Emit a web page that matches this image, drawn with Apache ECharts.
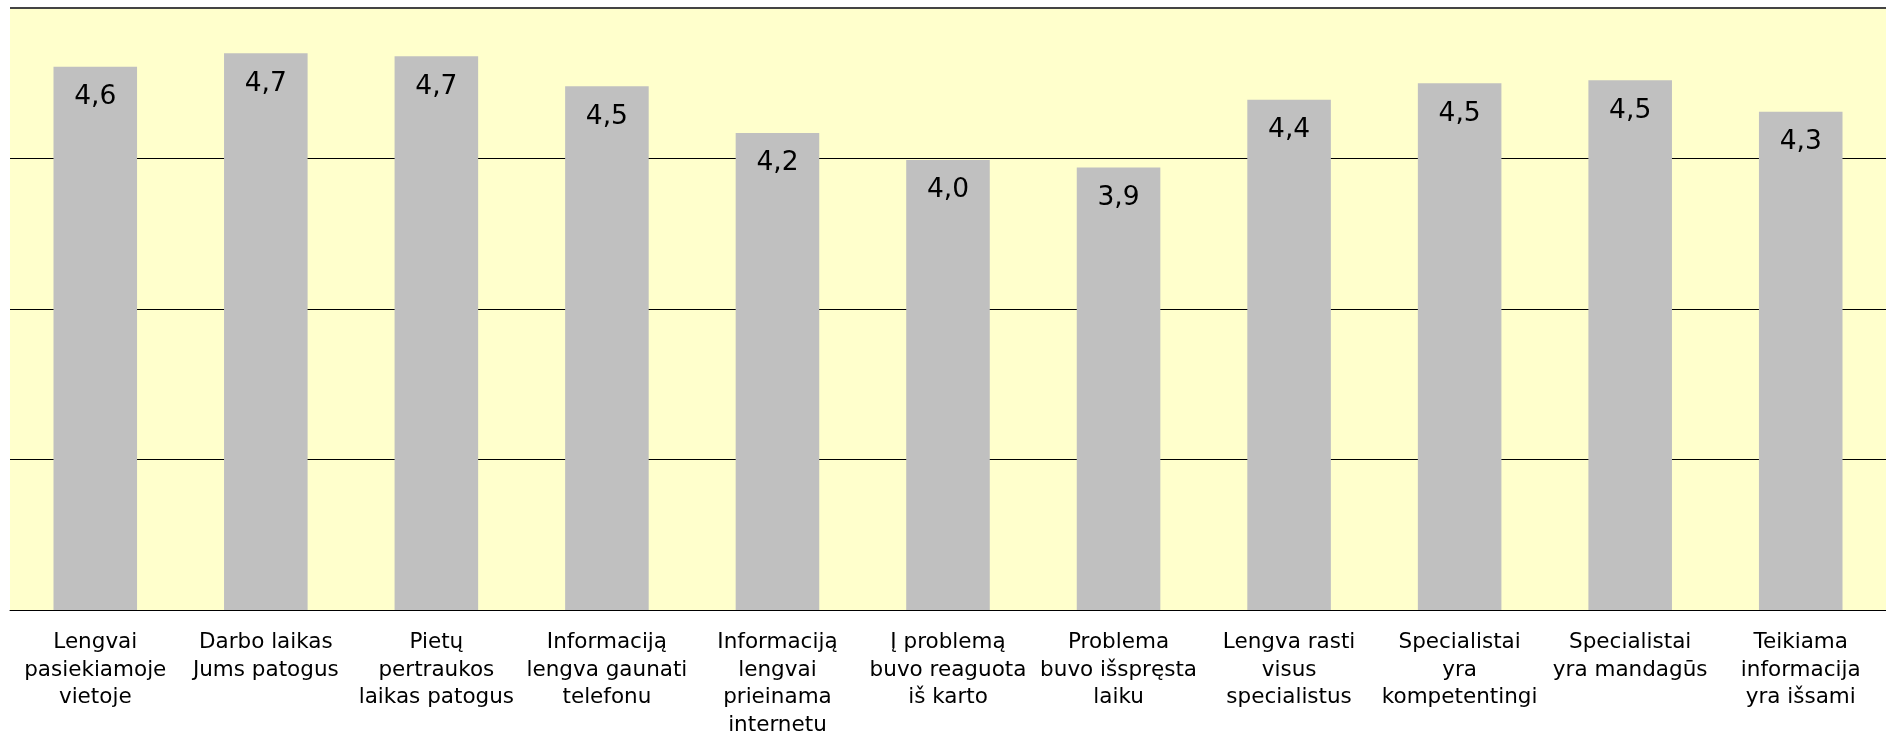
<!DOCTYPE html>
<html>
<head>
<meta charset="utf-8">
<script src="https://cdn.jsdelivr.net/npm/echarts@6/dist/echarts.min.js"></script>
<style>
  html, body { margin: 0; padding: 0; background: #ffffff; }
  #chart { width: 1886px; height: 735px; }
</style>
</head>
<body>
<div id="chart"></div>
<script>
// Survey statements (line breaks as they wrap under each bar)
const categories = [
  'Lengvai\npasiekiamoje\nvietoje',
  'Darbo laikas\nJums patogus',
  'Pietų\npertraukos\nlaikas patogus',
  'Informaciją\nlengva gaunati\ntelefonu',
  'Informaciją\nlengvai\nprieinama\ninternetu',
  'Į problemą\nbuvo reaguota\niš karto',
  'Problema\nbuvo išspręsta\nlaiku',
  'Lengva rasti\nvisus\nspecialistus',
  'Specialistai\nyra\nkompetentingi',
  'Specialistai\nyra mandagūs',
  'Teikiama\ninformacija\nyra išsami'
];

// Average score per statement
const scores = [4.61, 4.70, 4.68, 4.48, 4.17, 3.99, 3.94, 4.39, 4.50, 4.52, 4.31];

// Value axis range
const yMin = 1;
const yMax = 5;
const yStep = 1;

const chart = echarts.init(document.getElementById('chart'));

chart.setOption({
  animation: false,
  grid: {
    left: 10,
    right: 0,
    top: 8,
    bottom: 125,
    outerBoundsMode: 'none',
    show: true,
    backgroundColor: '#FFFFCC',
    borderWidth: 0
  },
  xAxis: {
    type: 'category',
    data: categories,
    axisLine: { show: true, lineStyle: { color: '#000000', width: 1 } },
    axisTick: { show: false },
    axisLabel: {
      interval: 0,
      margin: 19,
      color: '#000000',
      fontFamily: 'DejaVu Sans',
      fontSize: 21.5,
      lineHeight: 27.5,
      align: 'center'
    }
  },
  yAxis: {
    type: 'value',
    min: yMin,
    max: yMax,
    interval: yStep,
    axisLine: { show: false },
    axisTick: { show: false },
    axisLabel: { show: false },
    splitLine: {
      show: true,
      lineStyle: { color: ['#000000', '#000000', '#000000', '#000000', '#444444'], width: 1 }
    }
  },
  series: [{
    type: 'bar',
    data: scores,
    barCategoryGap: '51%',
    itemStyle: { color: '#C0C0C0' },
    label: {
      show: true,
      position: 'insideTop',
      distance: 17,
      color: '#000000',
      fontFamily: 'DejaVu Sans',
      fontSize: 26.5,
      formatter: p => p.value.toFixed(1).replace('.', ',')
    }
  }],
  graphic: [{
    type: 'rect',
    shape: { x: 10, y: 7, width: 1876, height: 2 },
    style: { fill: '#444444' },
    z: 10
  }]
});
</script>
</body>
</html>
